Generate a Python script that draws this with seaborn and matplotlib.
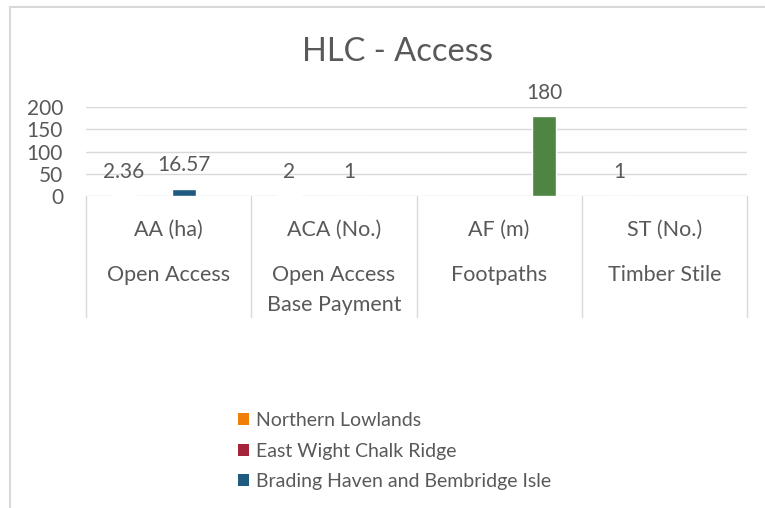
"""HLC - Access clustered column chart."""

import matplotlib

matplotlib.use("Agg")
import matplotlib.pyplot as plt
import matplotlib.transforms as mtransforms
import numpy as np
import pandas as pd
import seaborn as sns
from matplotlib.lines import Line2D
from matplotlib.patches import Patch

# --- data -------------------------------------------------------------
CODES = ["AA (ha)", "ACA (No.)", "AF (m)", "ST (No.)"]
ITEM_NAMES = [["Open Access"], ["Open Access", "Base Payment"], ["Footpaths"], ["Timber Stile"]]

SERIES = [
    "Northern Lowlands",
    "East Wight Chalk Ridge",
    "Brading Haven and Bembridge Isle",
    "Series 4",
]
NORTHERN_LOWLANDS = [2.36, 2, None, 1]
EAST_WIGHT = [None, None, None, None]
BRADING_HAVEN = [16.57, 1, None, None]
SERIES_4 = [None, None, 180, None]

COLORS = ["#F07F09", "#A3243B", "#1F5B80", "#4E8542"]
LEGEND_SERIES = SERIES[:3]

Y_TICKS = [0, 50, 100, 150, 200]
TITLE = "HLC - Access"

TEXT = "#595959"
GRID = "#D9D9D9"
W, H = 765, 508

rows = []
for name, vals in zip(SERIES, [NORTHERN_LOWLANDS, EAST_WIGHT, BRADING_HAVEN, SERIES_4]):
    for code, v in zip(CODES, vals):
        rows.append({"code": code, "series": name, "value": v})
df = pd.DataFrame(rows).dropna(subset=["value"])

sns.set_style("white")
plt.rcParams["font.family"] = ["Lato", "DejaVu Sans"]

fig = plt.figure(figsize=(W / 100, H / 100), dpi=100)
ax = fig.add_axes([86 / W, (H - 196) / H, (747 - 86) / W, (196 - 107) / H])

sns.barplot(
    data=df, x="code", y="value", hue="series", order=CODES, hue_order=SERIES,
    palette=dict(zip(SERIES, COLORS)), width=0.727, gap=0.2, legend=False,
    errorbar=None, ax=ax, saturation=1,
)

for c in ax.containers:
    ax.bar_label(c, fmt=lambda v: f"{v:g}", padding=9.5, fontsize=15, color=TEXT)

ax.set_xlim(-0.5, len(CODES) - 0.5)
ax.set_ylim(0, 200)
ax.set_yticks(Y_TICKS)
ax.tick_params(axis="y", length=0, pad=16.5, labelsize=15, labelcolor=TEXT)
ax.set_xticks([])
ax.set_xlabel("")
ax.set_ylabel("")
for s in ax.spines.values():
    s.set_visible(False)
ax.yaxis.grid(True, color=GRID, linewidth=1.0)
ax.set_axisbelow(True)

# multi-level category axis
trans = mtransforms.blended_transform_factory(ax.transData, fig.transFigure)
for b in np.arange(-0.5, len(CODES), 1.0):
    fig.add_artist(Line2D([b, b], [(H - 196) / H, (H - 317) / H], transform=trans,
                          color=GRID, linewidth=1.0))
for i, (code, lines) in enumerate(zip(CODES, ITEM_NAMES)):
    fig.text(i, (H - 230) / H, code, transform=trans, ha="center", va="center",
             fontsize=15.5, color=TEXT)
    for j, line in enumerate(lines):
        fig.text(i, (H - 275 - 30 * j) / H, line, transform=trans, ha="center",
                 va="center", fontsize=15.5, color=TEXT)

fig.text(397 / W, (H - 52) / H, TITLE, ha="center", va="center", fontsize=23.5, color=TEXT)

handles = [Patch(facecolor=col, edgecolor="none") for col in COLORS[:3]]
fig.legend(
    handles, LEGEND_SERIES, loc="upper left", bbox_to_anchor=(238 / W, (H - 412) / H),
    frameon=False, fontsize=14, labelcolor=TEXT, handlelength=0.57, handleheight=0.57,
    handletextpad=0.36, labelspacing=0.70, borderpad=0, borderaxespad=0,
)

# chart frame (cropped on right and bottom)
fig.add_artist(Line2D([10 / W, 10 / W], [(H - 7) / H, 0], transform=fig.transFigure,
                      color=GRID, linewidth=1.5))
fig.add_artist(Line2D([10 / W, 1], [(H - 7) / H, (H - 7) / H], transform=fig.transFigure,
                      color=GRID, linewidth=1.5))

fig.savefig("out.png", dpi=100)
